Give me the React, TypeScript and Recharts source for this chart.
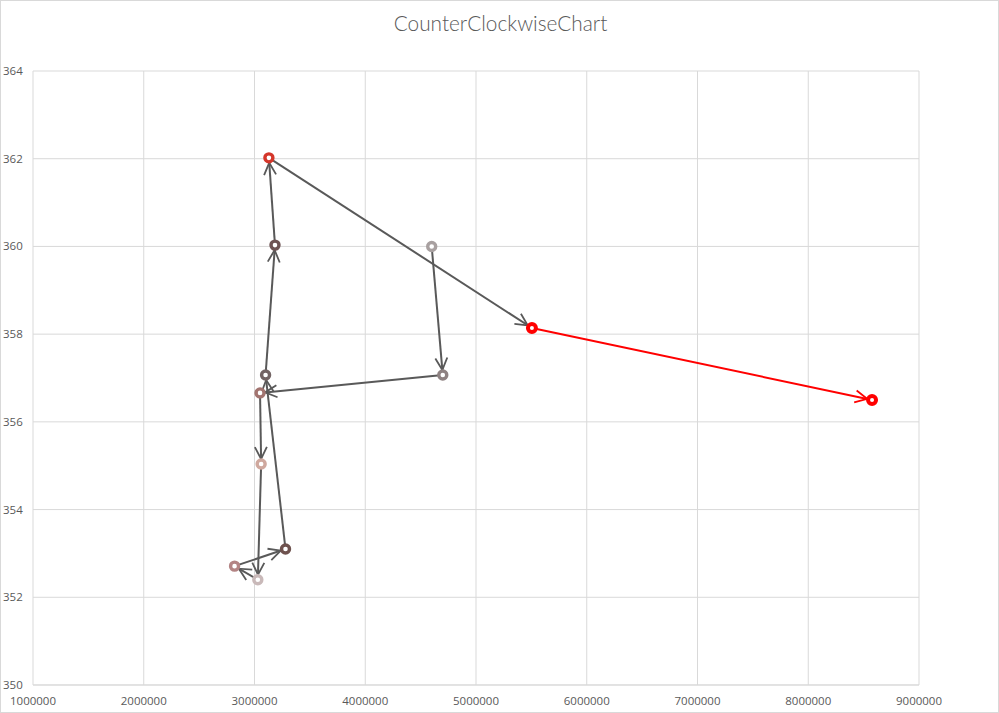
import React from "react";
import {
  ScatterChart,
  Scatter,
  XAxis,
  YAxis,
  CartesianGrid,
} from "recharts";

// path points in drawing order
const xValues = [
  4600000, 4700000, 3050000, 3060000, 3030000, 2820000, 3280000, 3100000,
  3185000, 3130000, 5505000, 8576000,
];
const yValues = [
  360.0, 357.07, 356.66, 355.04, 352.4, 352.71, 353.1, 357.07, 360.03,
  362.02, 358.14, 356.5,
];
const pointColors = [
  "#a8a0a0", "#8e8282", "#a27470", "#cfa89e", "#c9b9b9", "#b38484",
  "#6e524e", "#736464", "#6d5353", "#d4362a", "#ff0000", "#ff0000",
];
const segmentColors = [
  "#595959", "#595959", "#595959", "#595959", "#595959", "#595959",
  "#595959", "#595959", "#595959", "#595959", "#ff0000",
];

const xTicks = [1000000, 2000000, 3000000, 4000000, 5000000, 6000000, 7000000, 8000000, 9000000];
const yTicks = [350, 352, 354, 356, 358, 360, 362, 364];

const points = xValues.map((x, i) => ({ x, y: yValues[i], color: pointColors[i] }));
const segments = segmentColors.map((color, i) => ({
  color,
  data: [points[i], points[i + 1]],
}));

const font = "'Open Sans', sans-serif";

const PointMark = (props: any) => {
  const { cx, cy, payload } = props;
  const red = payload.color === "#ff0000";
  return (
    <circle
      cx={cx}
      cy={cy}
      r={4}
      fill="#ffffff"
      stroke={payload.color}
      strokeWidth={red ? 4 : 3.4}
    />
  );
};

const YTick = (props: any) => (
  <text x={3} y={props.y} dy={4} fontSize={11.5} fill="#595959" fontFamily={font}>
    {props.payload.value}
  </text>
);

export default function App() {
  return (
    <div
      style={{
        position: "absolute",
        left: 0,
        top: 0,
        width: 999,
        height: 713,
        boxSizing: "border-box",
        border: "1px solid #d9d9d9",
        background: "#fff",
        fontFamily: font,
      }}
    >
      <svg width={0} height={0} style={{ position: "absolute" }}>
        <defs>
          {["#595959", "#ff0000"].map((c, i) => (
            <marker
              key={c}
              id={`arrow${i}`}
              markerUnits="userSpaceOnUse"
              markerWidth={24}
              markerHeight={24}
              viewBox="0 0 24 24"
              refX={17}
              refY={6}
              orient="auto"
              style={{ overflow: "visible" }}
            >
              <path d="M0,0 L12,6 L0,12" fill="none" stroke={c} strokeWidth={1.8} />
            </marker>
          ))}
        </defs>
      </svg>
      <div
        style={{
          position: "absolute",
          top: 9,
          left: 0,
          width: 999,
          textAlign: "center",
          fontSize: 20.8,
          fontWeight: 300,
          fontFamily: "Lato, 'Open Sans', sans-serif",
          color: "#595959",
        }}
      >
        CounterClockwiseChart
      </div>
      <div style={{ position: "absolute", left: -1, top: -1 }}>
        <ScatterChart
          width={999}
          height={713}
          margin={{ top: 71, right: 80, bottom: 8, left: 8 }}
        >
          <CartesianGrid stroke="#d9d9d9" />
          <XAxis
            type="number"
            dataKey="x"
            domain={[1000000, 9000000]}
            ticks={xTicks}
            height={20}
            stroke="#d9d9d9"
            tickLine={false}
            tickMargin={6}
            tick={{ fill: "#595959", fontSize: 11.5, fontFamily: font }}
            allowDataOverflow
          />
          <YAxis
            type="number"
            dataKey="y"
            domain={[350, 364]}
            ticks={yTicks}
            width={25}
            axisLine={false}
            tickLine={false}
            tick={<YTick />}
            allowDataOverflow
          />
          {segments.map((s, i) => (
            <Scatter
              key={i}
              data={s.data}
              fill={s.color}
              line={{
                stroke: s.color,
                strokeWidth: 2,
                markerEnd: `url(#arrow${s.color === "#ff0000" ? 1 : 0})`,
              }}
              shape={() => <g />}
              isAnimationActive={false}
            />
          ))}
          <Scatter data={points} shape={<PointMark />} isAnimationActive={false} />
        </ScatterChart>
      </div>
    </div>
  );
}
